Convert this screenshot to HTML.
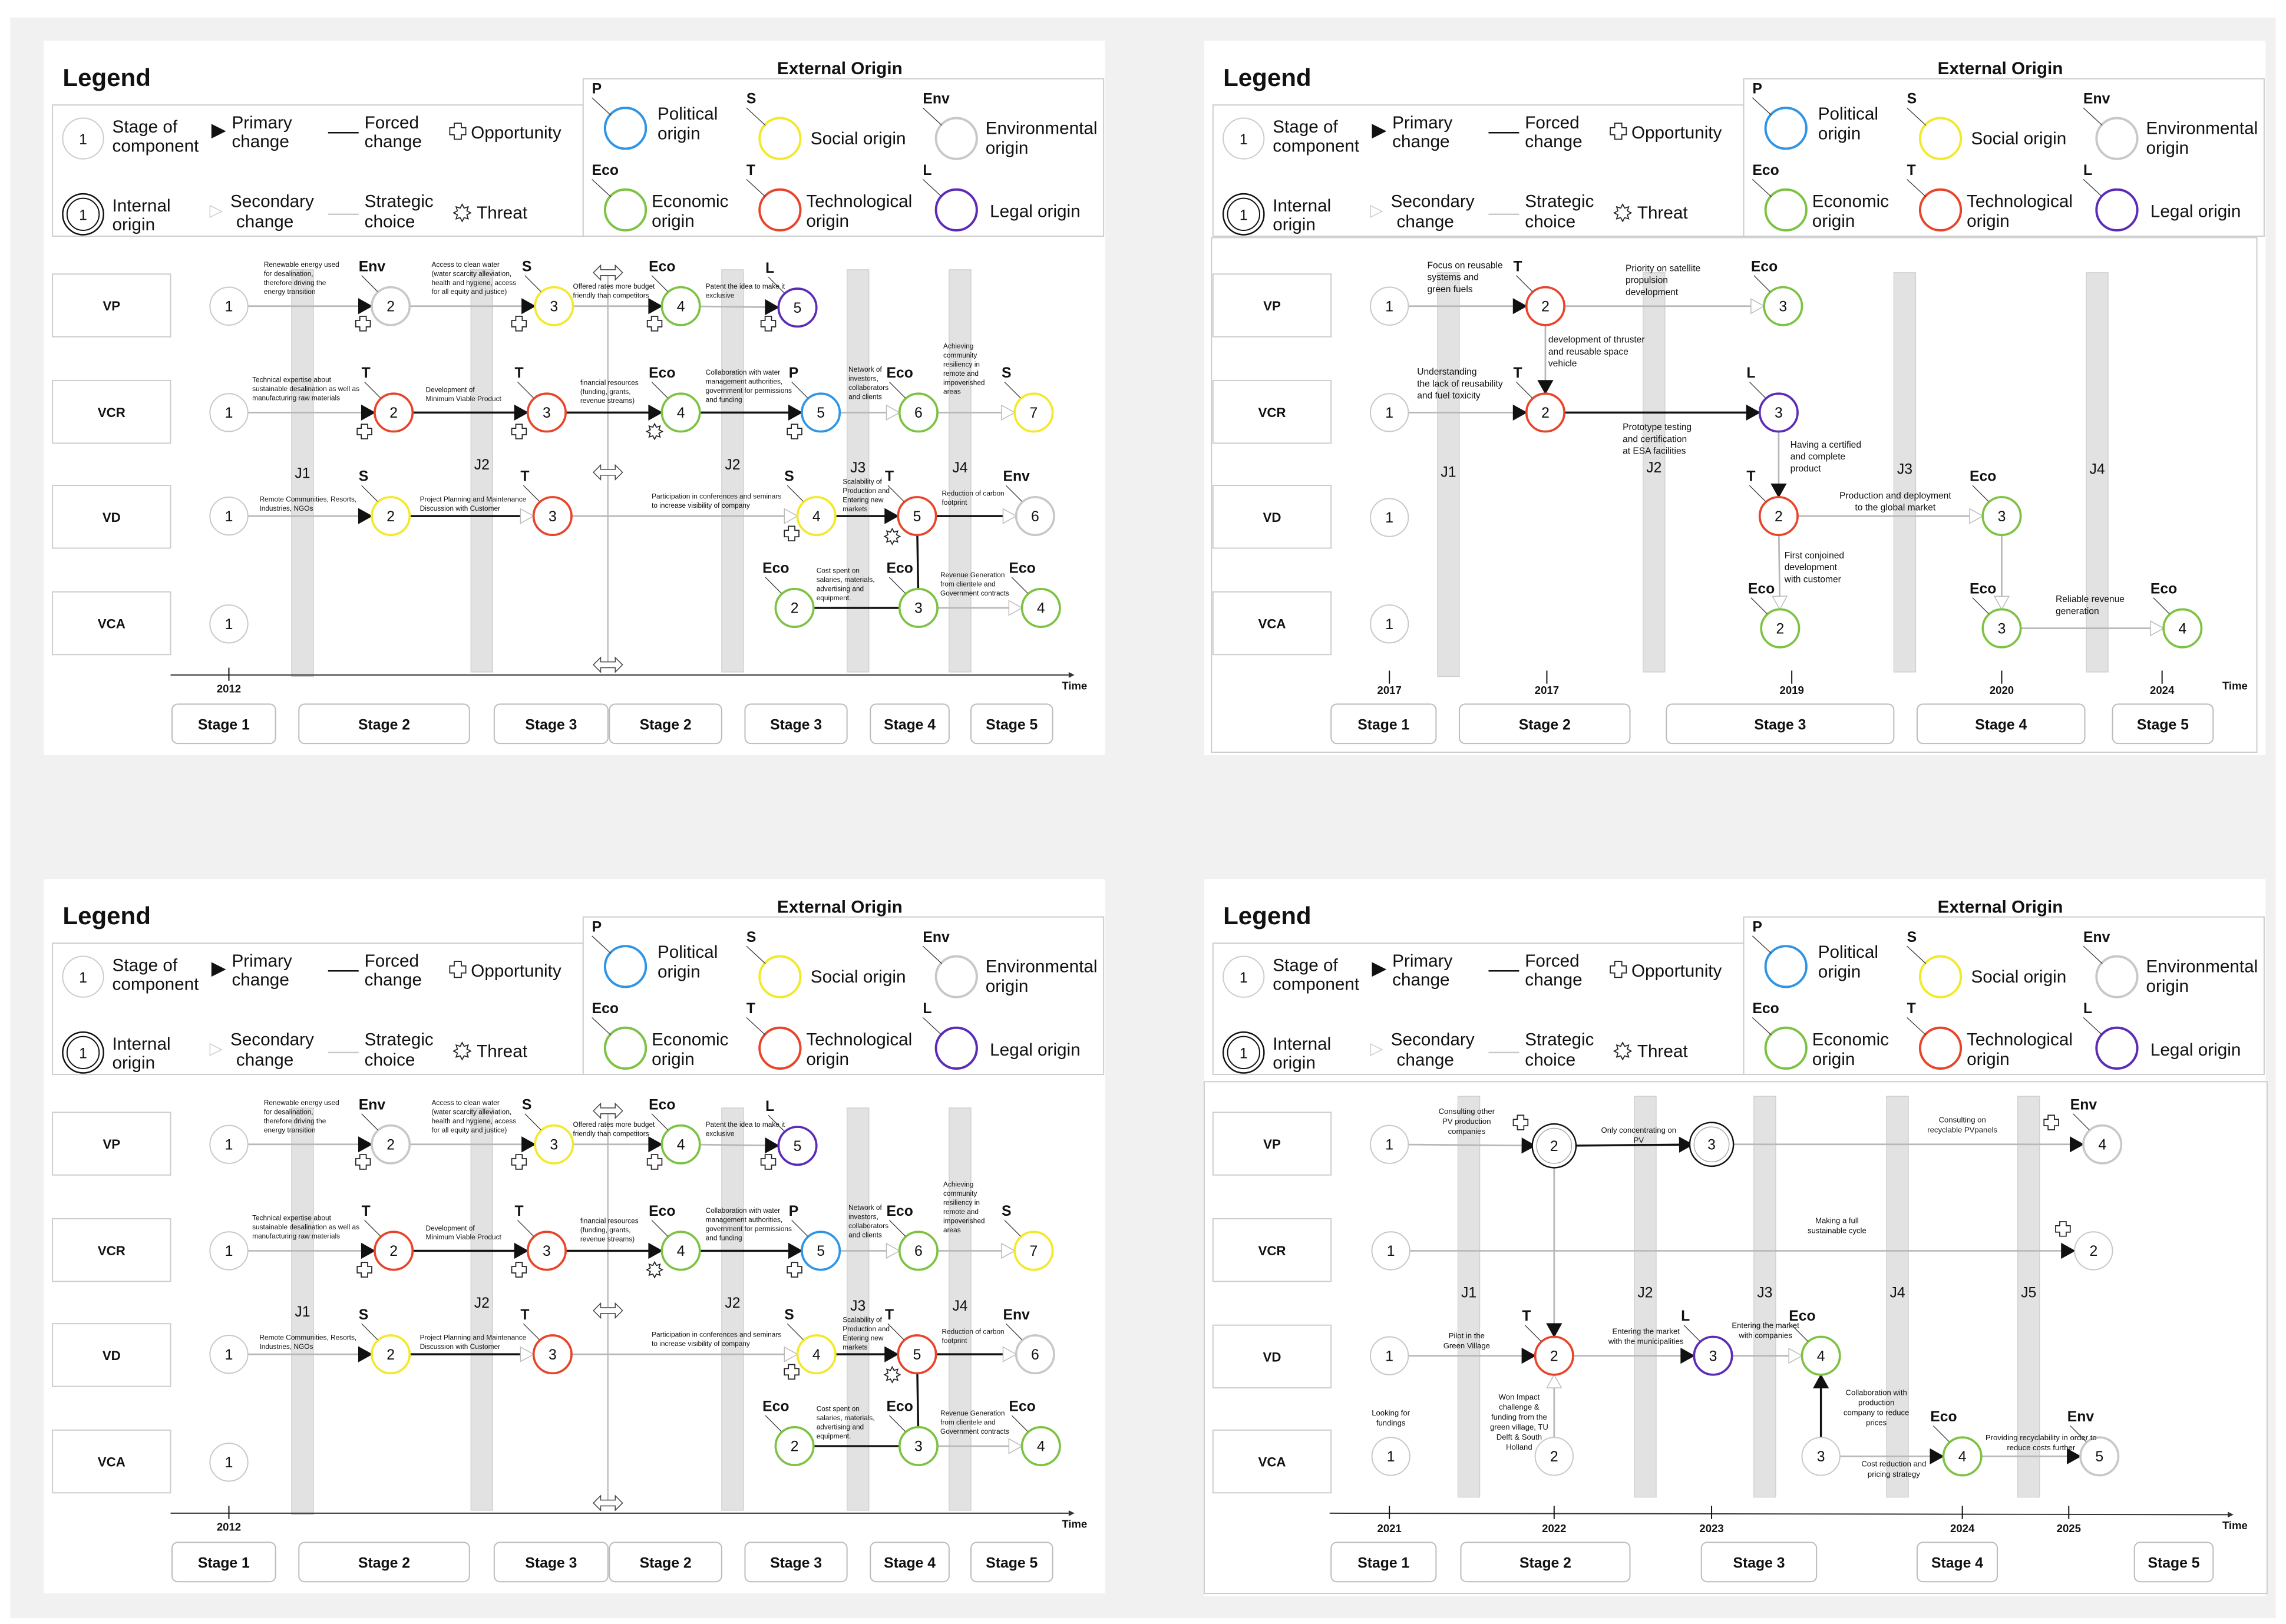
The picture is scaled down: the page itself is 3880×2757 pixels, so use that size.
<!DOCTYPE html>
<html><head><meta charset="utf-8"><style>
html,body{margin:0;padding:0;background:#fff}
svg{display:block}
text{font-family:"Liberation Sans Narrow","Liberation Sans",sans-serif;fill:#111}
</style></head><body>
<svg id="root" xmlns="http://www.w3.org/2000/svg" width="3880" height="2757" viewBox="0 0 1568 1114" preserveAspectRatio="none">
<rect x="0" y="0" width="1568" height="1114" fill="#fff"/>
<rect x="7" y="12" width="1554" height="1098" fill="#f1f1f1"/>
<g id="content"></g>
</svg>
<script>
// ---- colours for origins ----
const originColors = {P:'#2e95e6',S:'#f3e92a',Env:'#c8c8c8',Eco:'#7dc242',T:'#e8442a',L:'#5b2bb8',N:'#c8c8c8',I:'#111'};

// ---- TL / BL panel data ----
const rowNames = ['VP','VCR','VD','VCA'];
const nodesA = [ // id, x, y, label, origin
 ['vp1',157,210,'1','N'],['vp2',268,210,'2','Env'],['vp3',380,210,'3','S'],['vp4',467,210,'4','Eco'],['vp5',547,211,'5','L'],
 ['vcr1',157,283,'1','N'],['vcr2',270,283,'2','T'],['vcr3',375,283,'3','T'],['vcr4',467,283,'4','Eco'],['vcr5',563,283,'5','P'],['vcr6',630,283,'6','Eco'],['vcr7',709,283,'7','S'],
 ['vd1',157,354,'1','N'],['vd2',268,354,'2','S'],['vd3',379,354,'3','T'],['vd4',560,354,'4','S'],['vd5',629,354,'5','T'],['vd6',710,354,'6','Env'],
 ['vca1',157,428,'1','N'],['vca2',545,417,'2','Eco'],['vca3',630,417,'3','Eco'],['vca4',714,417,'4','Eco']];
const edgesA = [ // from, to, line(g=gray,b=black), arrow(f=filled,h=hollow,n=none)
 ['vp1','vp2','g','f'],['vp2','vp3','g','f'],['vp3','vp4','g','f'],['vp4','vp5','g','f'],
 ['vcr1','vcr2','g','f'],['vcr2','vcr3','b','f'],['vcr3','vcr4','b','f'],['vcr4','vcr5','b','f'],['vcr5','vcr6','g','h'],['vcr6','vcr7','g','h'],
 ['vd1','vd2','g','f'],['vd2','vd3','b','h'],['vd3','vd4','g','h'],['vd4','vd5','b','f'],['vd5','vd6','b','h'],
 ['vca2','vca3','b','n'],['vd5','vca3','b','n'],['vca3','vca4','g','h']];
const barsA = [[200,185,464,'J1',328],[323,185,461,'J2',322],[495,185,461,'J2',322],[581,185,461,'J3',324],[651,185,461,'J4',324]];
const ticksA = [[157,'2012']];
const stagesA = [[118,189,'Stage 1'],[205,322,'Stage 2'],[339,417,'Stage 3'],[418,495,'Stage 2'],[511,581,'Stage 3'],[597,651,'Stage 4'],[666,722,'Stage 5']];
const iconsA = [['o',249,222],['o',356,222],['o',449,222],['o',527,222],['o',250,296],['o',356,296],['t',449,296],['o',545,296],['o',543,366],['t',612,368]];
const notesA = [
 [181,183,['Renewable energy used','for desalination,','therefore driving the','energy transition'],'start'],
 [296,183,['Access to clean water','(water scarcity alleviation,','health and hygiene, access','for all equity and justice)'],'start'],
 [393,198,['Offered rates more budget','friendly than competitors'],'start'],
 [484,198,['Patent the idea to make it','exclusive'],'start'],
 [173,262,['Technical expertise about','sustainable desalination as well as','manufacturing raw materials'],'start'],
 [292,269,['Development of','Minimum Viable Product'],'start'],
 [398,264,['financial resources','(funding, grants,','revenue streams)'],'start'],
 [484,257,['Collaboration with water','management authorities,','government for permissions','and funding'],'start'],
 [582,255,['Network of','investors,','collaborators','and clients'],'start'],
 [647,239,['Achieving','community','resiliency in','remote and','impoverished','areas'],'start'],
 [178,344,['Remote Communities, Resorts,','Industries, NGOs'],'start'],
 [288,344,['Project Planning and Maintenance','Discussion with Customer'],'start'],
 [447,342,['Participation in conferences and seminars','to increase visibility of company'],'start'],
 [578,332,['Scalability of','Production and','Entering new','markets'],'start'],
 [646,340,['Reduction of carbon','footprint'],'start'],
 [560,393,['Cost spent on','salaries, materials,','advertising and','equipment.'],'start'],
 [645,396,['Revenue Generation','from clientele and','Government contracts'],'start']];

// ---- TR panel data ----
const nodesB = [
 ['vp1',953,210,'1','N'],['vp2',1060,210,'2','T'],['vp3',1223,210,'3','Eco'],
 ['vcr1',953,283,'1','N'],['vcr2',1060,283,'2','T'],['vcr3',1220,283,'3','L'],
 ['vd1',953,355,'1','N'],['vd2',1220,354,'2','T'],['vd3',1373,354,'3','Eco'],
 ['vca1',953,428,'1','N'],['vca2',1221,431,'2','Eco'],['vca3',1373,431,'3','Eco'],['vca4',1497,431,'4','Eco']];
const edgesB = [['vp1','vp2','g','f'],['vp2','vp3','g','h'],['vp2','vcr2','g','f'],['vcr1','vcr2','g','f'],['vcr2','vcr3','b','f'],
 ['vcr3','vd2','g','f'],['vd2','vd3','g','h'],['vd2','vca2','g','h'],['vd3','vca3','g','h'],['vca3','vca4','g','h']];
const barsB = [[986,187,464,'J1',327],[1127,187,461,'J2',324],[1299,187,461,'J3',325],[1431,187,461,'J4',325]];
const ticksB = [[953,'2017'],[1061,'2017'],[1229,'2019'],[1373,'2020'],[1483,'2024']];
const stagesB = [[913,985,'Stage 1'],[1001,1118,'Stage 2'],[1143,1299,'Stage 3'],[1315,1430,'Stage 4'],[1449,1518,'Stage 5']];
const notesB = [
 [979,184,['Focus on reusable','systems and','green fuels'],'start'],
 [1115,186,['Priority on satellite','propulsion','development'],'start'],
 [1062,235,['development of thruster','and reusable space','vehicle'],'start'],
 [972,257,['Understanding','the lack of reusability','and fuel toxicity'],'start'],
 [1113,295,['Prototype testing','and certification','at ESA facilities'],'start'],
 [1228,307,['Having a certified','and complete','product'],'start'],
 [1300,342,['Production and deployment','to the global market'],'middle'],
 [1224,383,['First conjoined','development','with customer'],'start'],
 [1410,413,['Reliable revenue','generation'],'start']];

// ---- BR panel data ----
const nodesC = [
 ['vp1',953,785,'1','N'],['vp2',1066,786,'2','I'],['vp3',1174,785,'3','I'],['vp4',1442,785,'4','Env'],
 ['vcr1',954,858,'1','N'],['vcr2',1436,858,'2','N'],
 ['vd1',953,930,'1','N'],['vd2',1066,930,'2','T'],['vd3',1175,930,'3','L'],['vd4',1249,930,'4','Eco'],
 ['vca1',954,999,'1','N'],['vca2',1066,999,'2','N'],['vca3',1249,999,'3','N'],['vca4',1346,999,'4','Eco'],['vca5',1440,999,'5','Env']];
const edgesC = [['vp1','vp2','g','f'],['vp2','vp3','b','f'],['vp3','vp4','g','f'],['vp2','vd2','g','f'],['vcr1','vcr2','g','f'],
 ['vd1','vd2','g','f'],['vca2','vd2','g','h'],['vd2','vd3','g','f'],['vd3','vd4','g','h'],['vca3','vd4','b','f'],['vca3','vca4','g','f'],['vca4','vca5','g','f']];
const barsC = [[1000,752,1027,'J1',890],[1121,752,1027,'J2',890],[1203,752,1027,'J3',890],[1294,752,1027,'J4',890],[1384,752,1027,'J5',890]];
const ticksC = [[953,'2021'],[1066,'2022'],[1174,'2023'],[1346,'2024'],[1419,'2025']];
const stagesC = [[913,985,'Stage 1'],[1002,1118,'Stage 2'],[1167,1246,'Stage 3'],[1315,1370,'Stage 4'],[1464,1518,'Stage 5']];
const iconsC = [['o',1043,770],['o',1407,770],['o',1415,843]];
const notesC = [
 [1006,764,['Consulting other','PV production','companies'],'middle'],
 [1124,777,['Only concentrating on','PV'],'middle'],
 [1346,770,['Consulting on','recyclable PVpanels'],'middle'],
 [1260,839,['Making a full','sustainable cycle'],'middle'],
 [1006,918,['Pilot in the','Green Village'],'middle'],
 [1129,915,['Entering the market','with the municipalities'],'middle'],
 [1211,911,['Entering the market','with companies'],'middle'],
 [1042,960,['Won Impact','challenge &','funding from the','green village, TU','Delft & South','Holland'],'middle'],
 [954,971,['Looking for','fundings'],'middle'],
 [1287,957,['Collaboration with','production','company to reduce','prices'],'middle'],
 [1299,1006,['Cost reduction and','pricing strategy'],'middle'],
 [1400,988,['Providing recyclability in order to','reduce costs further'],'middle']];

const NS='http://www.w3.org/2000/svg';
const root=document.getElementById('content');
function mk(tag,attrs,parent,txt){const e=document.createElementNS(NS,tag);for(const k in attrs)e.setAttribute(k,attrs[k]);if(txt!==undefined)e.textContent=txt;(parent||root).appendChild(e);return e;}
function grp(parent,name){const g=mk('g',{},parent);
 
 
 return g;}
function txt(p,x,y,s,size,opt){opt=opt||{};const t=mk('text',{x:x,y:y,'font-size':size,'text-anchor':opt.a||'start','font-weight':opt.b?'bold':'normal'},p,s);return t;}
function oppIcon(p,x,y,s){s=s||1;const a=2.2*s,b=5*s;
 mk('path',{d:`M${x-a},${y-b}H${x+a}V${y-a}H${x+b}V${y+a}H${x+a}V${y+b}H${x-a}V${y+a}H${x-b}V${y-a}H${x-a}Z`,fill:'#fff',stroke:'#222','stroke-width':0.7},p);}
function threatIcon(p,x,y,s){s=s||1;let d='';for(let i=0;i<16;i++){const r=(i%2?3.2:5.3)*s,an=i*Math.PI/8;d+=(i?'L':'M')+(x+r*Math.cos(an)).toFixed(2)+','+(y+r*Math.sin(an)).toFixed(2);}
 mk('path',{d:d+'Z',fill:'#fff',stroke:'#222','stroke-width':0.7},p);}
function dblArrow(p,x,y){
 mk('path',{d:`M${x-10},${y}L${x-5},${y-5}V${y-2}H${x+5}V${y-5}L${x+10},${y}L${x+5},${y+5}V${y+2}H${x-5}V${y+5}Z`,fill:'#fff',stroke:'#444','stroke-width':0.6},p);}
function circleNode(p,x,y,label,origin,r){r=r||13;
 const g=grp(p,'stage-node-'+label);
 if(origin==='I'){mk('circle',{cx:x,cy:y,r:r+2,fill:'#fff',stroke:'#111','stroke-width':1},g);mk('circle',{cx:x,cy:y,r:r-1,fill:'#fff',stroke:'#aaa','stroke-width':0.6},g);}
 else mk('circle',{cx:x,cy:y,r:r,fill:'#fff',stroke:originColors[origin],'stroke-width':origin==='N'?0.8:1.5},g);
 txt(g,x,y+3.5,label,10,{a:'middle'});
 if(origin!=='N'&&origin!=='I'){
  const ol=grp(p,'origin-label-'+origin);
  txt(ol,x-22,y-24,origin,10,{b:1});
  mk('line',{x1:x-20,y1:y-21,x2:x-9,y2:y-10,stroke:'#333','stroke-width':0.5},ol);
 }
 return g;}
function arrowHead(p,tx,ty,ux,uy,type){const L=9,W=5;const bx=tx-ux*L,by=ty-uy*L,px=-uy,py=ux;
 mk('path',{d:`M${tx},${ty}L${bx+px*W},${by+py*W}L${bx-px*W},${by-py*W}Z`,fill:type==='f'?'#111':'#fff',stroke:type==='f'?'#111':'#bbb','stroke-width':0.6},p);}
function drawEdge(p,a,b,line,arrow){const dx=b[1]-a[1],dy=b[2]-a[2],len=Math.hypot(dx,dy),ux=dx/len,uy=dy/len,r=13;
 const g=grp(p,'edge-'+a[0]+'-'+b[0]);
 const sx=a[1]+ux*r,sy=a[2]+uy*r,ex=b[1]-ux*r,ey=b[2]-uy*r;
 const lx=arrow==='n'?ex:ex-ux*8,ly=arrow==='n'?ey:ey-uy*8;
 mk('line',{x1:sx,y1:sy,x2:lx,y2:ly,stroke:line==='b'?'#111':'#b8b8b8','stroke-width':line==='b'?1.4:1.1},g);
 if(arrow!=='n')arrowHead(g,ex,ey,ux,uy,arrow);}
function notes(p,arr,size){arr.forEach(n=>{const g=grp(p,'annotation');n[2].forEach((l,i)=>txt(g,n[0],n[1]+i*size*1.3,l,size,{a:n[3]}));});}

function legend(ox,oy){
 const FS=12;
 const L=grp(null,'legend');
 txt(L,ox+43,oy+59,'Legend',17,{b:1});
 mk('rect',{x:ox+36,y:oy+72,width:364,height:90,fill:'#fff',stroke:'#ccc','stroke-width':0.8},L);
 const c1=grp(L,'legend-stage-of-component');mk('circle',{cx:ox+57,cy:oy+95,r:14,fill:'#fff',stroke:'#ccc','stroke-width':0.8},c1);txt(c1,ox+57,oy+99,'1',10,{a:'middle'});
 txt(c1,ox+77,oy+91,'Stage of',FS);txt(c1,ox+77,oy+104,'component',FS);
 const c2=grp(L,'legend-primary-change');mk('path',{d:`M${ox+145},${oy+85}L${ox+155},${oy+90}L${ox+145},${oy+95}Z`,fill:'#111'},c2);
 txt(c2,ox+159,oy+88,'Primary',FS);txt(c2,ox+159,oy+101,'change',FS);
 const c3=grp(L,'legend-forced-change');mk('line',{x1:ox+225,y1:oy+91,x2:ox+246,y2:oy+91,stroke:'#111','stroke-width':1},c3);
 txt(c3,ox+250,oy+88,'Forced',FS);txt(c3,ox+250,oy+101,'change',FS);
 const c4=grp(L,'legend-opportunity');oppIcon(c4,ox+314,oy+90,1.1);txt(c4,ox+323,oy+95,'Opportunity',FS);
 const c5=grp(L,'legend-internal-origin');mk('circle',{cx:ox+57,cy:oy+147,r:14,fill:'#fff',stroke:'#111','stroke-width':1},c5);mk('circle',{cx:ox+57,cy:oy+147,r:11,fill:'#fff',stroke:'#111','stroke-width':0.8},c5);txt(c5,ox+57,oy+151,'1',10,{a:'middle'});
 txt(c5,ox+77,oy+145,'Internal',FS);txt(c5,ox+77,oy+158,'origin',FS);
 const c6=grp(L,'legend-secondary-change');mk('path',{d:`M${ox+144},${oy+141}L${ox+152},${oy+145}L${ox+144},${oy+149}Z`,fill:'#fff',stroke:'#ccc','stroke-width':0.6},c6);
 txt(c6,ox+158,oy+142,'Secondary',FS);txt(c6,ox+162,oy+156,'change',FS);
 const c7=grp(L,'legend-strategic-choice');mk('line',{x1:ox+225,y1:oy+147,x2:ox+246,y2:oy+147,stroke:'#c8c8c8','stroke-width':1},c7);
 txt(c7,ox+250,oy+142,'Strategic',FS);txt(c7,ox+250,oy+156,'choice',FS);
 const c8=grp(L,'legend-threat');threatIcon(c8,ox+317,oy+146,1.1);txt(c8,ox+327,oy+150,'Threat',FS);
 const E=grp(null,'external-origin-legend');
 txt(E,ox+576,oy+51,'External Origin',12,{a:'middle',b:1});
 mk('rect',{x:ox+400,y:oy+54,width:357,height:108,fill:'#fff',stroke:'#ccc','stroke-width':0.8},E);
 const items=[['P',429,88,['Political','origin'],451,82],['S',535,95,['Social origin'],556,99],['Env',656,95,['Environmental','origin'],676,92],
  ['Eco',429,144,['Economic','origin'],447,142],['T',535,144,['Technological','origin'],553,142],['L',656,144,['Legal origin'],679,149]];
 items.forEach(it=>{const g=grp(E,'legend-origin-'+it[0]);const x=ox+it[1],y=oy+it[2];
  mk('circle',{cx:x,cy:y,r:14,fill:'#fff',stroke:originColors[it[0]],'stroke-width':1.6},g);
  txt(g,x-23,y-24,it[0],10,{b:1});mk('line',{x1:x-23,y1:y-21,x2:x-10,y2:y-9,stroke:'#333','stroke-width':0.5},g);
  it[3].forEach((l,i)=>txt(g,ox+it[4],oy+it[5]+i*13.5,l,FS));});
}
function rows(p,ox,ys){ys.forEach((y,i)=>{const g=grp(p,'row-label-'+rowNames[i].toLowerCase());mk('rect',{x:ox,y:y,width:81,height:43,fill:'#fff',stroke:'#ccc','stroke-width':0.8},g);txt(g,ox+40.5,y+25,rowNames[i],9,{a:'middle',b:1});});}
function bars(p,arr){arr.forEach(b=>{const g=grp(p,'junction-bar-'+b[3].toLowerCase());mk('rect',{x:b[0],y:b[1],width:15,height:b[2]-b[1],fill:'#e2e2e2',stroke:'#ccc','stroke-width':0.5},g);txt(g,b[0]+7.5,b[4],b[3],10,{a:'middle'});});}
function stages(p,arr,y){arr.forEach(s=>{const g=grp(p,'stage-box');mk('rect',{x:s[0],y:y,width:s[1]-s[0],height:27,rx:4,fill:'#fff',stroke:'#bbb','stroke-width':0.8},g);txt(g,(s[0]+s[1])/2,y+17.5,s[2],10,{a:'middle',b:1});});}
function ticks(p,arr,y,axis,ty){arr.forEach(t=>{const g=grp(p,'time-tick-'+t[1]);mk('line',{x1:t[0],y1:y-5,x2:t[0],y2:y+4,stroke:'#111','stroke-width':0.8},g);txt(g,t[0],(ty||y+12),t[1],7.5,{a:'middle',b:1});});}
function nodesEdges(p,nodes,edges){const m={};nodes.forEach(n=>m[n[0]]=n);edges.forEach(e=>drawEdge(p,m[e[0]],m[e[1]],e[2],e[3]));nodes.forEach(n=>circleNode(p,n[1],n[2],n[3],n[4]));}
function icons(p,arr){arr.forEach(i=>{const g=grp(p,i[0]==='o'?'opportunity-icon':'threat-icon');if(i[0]==='o')oppIcon(g,i[1],i[2]);else threatIcon(g,i[1],i[2]);});}

function panelA(dy){
 mk('rect',{x:30,y:28+dy,width:728,height:490,fill:'#fff'});
 legend(0,dy);
 const P=grp(null,'process-diagram');P.setAttribute('transform',`translate(0,${dy})`);
 rows(P,36,[188,261,333,406]);
 bars(P,barsA);
 mk('line',{x1:417,y1:186,x2:417,y2:458,stroke:'#999','stroke-width':0.6},P);
 [187,324,456].forEach(y=>{const g=grp(P,'double-arrow-marker');dblArrow(g,417,y);});
 const ax=grp(P,'time-axis');mk('line',{x1:117,y1:463,x2:733,y2:463,stroke:'#333','stroke-width':0.8},ax);mk('path',{d:'M733,461L737,463L733,465Z',fill:'#333'},ax);
 txt(ax,737,473,'Time',7.5,{a:'middle',b:1});
 ticks(P,ticksA,463,null,475);
 stages(P,stagesA,483);
 nodesEdges(P,nodesA,edgesA);
 icons(P,iconsA);
 notes(P,notesA,4.8);
}
panelA(0);
panelA(575);

// TR
mk('rect',{x:826,y:28,width:728,height:490,fill:'#fff'});
legend(796,0);
{const P=grp(null,'process-diagram-tr');
 mk('rect',{x:831,y:163,width:717,height:353,fill:'#fff',stroke:'#ccc','stroke-width':0.8},P);
 rows(P,832,[188,261,333,406]);bars(P,barsB);
 ticks(P,ticksB,465,null,476);
 txt(P,1533,473,'Time',7.5,{a:'middle',b:1});
 stages(P,stagesB,483);
 nodesEdges(P,nodesB,edgesB);
 notes(P,notesB,6.3);}

// BR
mk('rect',{x:826,y:603,width:728,height:492,fill:'#fff'});
legend(796,575);
{const P=grp(null,'process-diagram-br');
 mk('rect',{x:826,y:742,width:729,height:351,fill:'#fff',stroke:'#ccc','stroke-width':0.8},P);
 rows(P,832,[763,836,909,981]);bars(P,barsC);
 const ax=grp(P,'time-axis');mk('line',{x1:912,y1:1038,x2:1528,y2:1039,stroke:'#333','stroke-width':0.8},ax);mk('path',{d:'M1528,1037L1532,1039L1528,1041Z',fill:'#333'},ax);
 txt(ax,1533,1049,'Time',7.5,{a:'middle',b:1});
 ticks(P,ticksC,1038,null,1051);
 stages(P,stagesC,1058);
 nodesEdges(P,nodesC,edgesC);
 icons(P,iconsC);
 notes(P,notesC,5.3);}
</script>
</body></html>
